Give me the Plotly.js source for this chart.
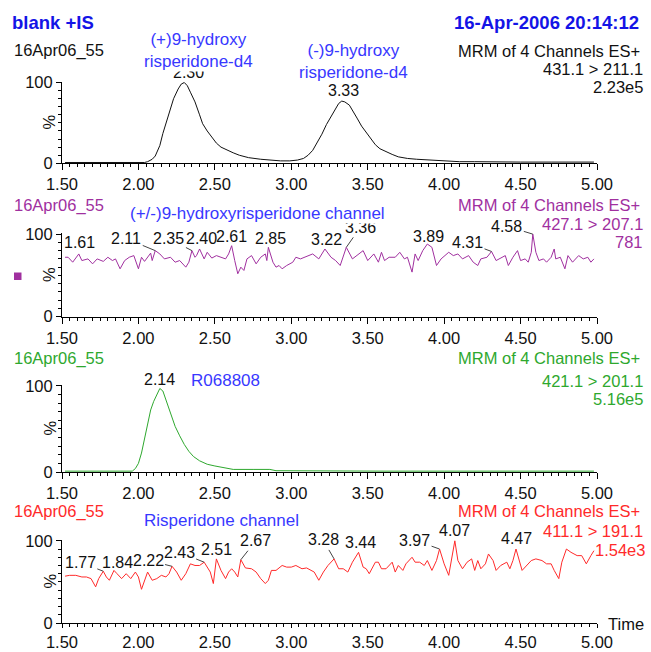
<!DOCTYPE html>
<html><head><meta charset="utf-8">
<script src="https://cdn.plot.ly/plotly-3.0.1.min.js"></script>
<style>body{margin:0;background:#fff}#c{width:651px;height:652px}</style>
</head><body><div id="c"></div>
<script>
// ---------- DATA ----------
const t1 = [1.52,1.60,1.70,1.80,1.90,2.00,2.04,2.06,2.09,2.11,2.14,2.16,2.19,2.21,2.23,2.26,2.28,2.30,2.32,2.34,2.37,2.40,2.42,2.45,2.48,2.51,2.54,2.58,2.62,2.66,2.72,2.80,2.86,2.93,2.99,3.04,3.08,3.11,3.14,3.17,3.20,3.23,3.26,3.29,3.31,3.33,3.35,3.38,3.40,3.43,3.46,3.49,3.52,3.55,3.58,3.62,3.66,3.70,3.76,3.82,3.90,3.96,4.02,4.10,4.20,4.35,4.50,4.70,4.90,4.98];
const v1 = [1,1,1,1,1,1,1,2,5,9,22,37,56,70,80,92,98,100,96,88,76,60,49,40,32,25,20,16,13,10,7,5,4,3,3,4,6,10,16,26,36,48,58,68,74,77,76,72,66,56,46,38,31,23,18,14,11,8,6,5,4,3,3,2,2,1.5,1.5,1.5,1.5,1.5];
const peaks1 = [2.30, 3.33];

const t2 = [1.52,1.54,1.57,1.61,1.63,1.67,1.70,1.73,1.77,1.80,1.83,1.85,1.88,1.91,1.94,1.97,2.00,2.02,2.04,2.08,2.09,2.11,2.14,2.17,2.21,2.24,2.27,2.31,2.33,2.35,2.37,2.38,2.40,2.43,2.45,2.48,2.51,2.54,2.57,2.59,2.61,2.63,2.65,2.67,2.69,2.71,2.74,2.77,2.80,2.83,2.84,2.85,2.88,2.90,2.92,2.94,2.97,3.01,3.03,3.06,3.09,3.14,3.18,3.22,3.26,3.29,3.32,3.34,3.36,3.40,3.44,3.47,3.50,3.54,3.57,3.59,3.61,3.64,3.68,3.71,3.74,3.76,3.79,3.81,3.83,3.86,3.89,3.92,3.95,3.98,4.03,4.06,4.09,4.12,4.16,4.19,4.22,4.24,4.28,4.31,4.34,4.36,4.40,4.42,4.45,4.48,4.50,4.53,4.55,4.57,4.58,4.60,4.62,4.65,4.67,4.70,4.72,4.73,4.76,4.79,4.81,4.84,4.88,4.91,4.94,4.96,4.98];
const v2 = [72,72,66,76,68,70,64,70,67,72,68,70,58,68,72,74,58,72,67,77,68,80,76,70,72,66,68,60,66,80,72,74,82,70,78,71,74,72,70,76,86,68,52,60,56,70,74,64,72,76,68,84,66,60,62,58,62,66,72,70,72,76,70,82,72,68,62,74,84,70,76,80,68,76,66,78,68,72,72,78,70,72,54,76,68,80,88,84,62,70,78,74,76,70,74,66,62,70,72,79,68,70,74,62,72,80,68,70,66,78,100,78,68,70,66,72,82,70,72,58,74,66,74,70,72,66,70];
const peaks2 = [1.61,2.11,2.35,2.40,2.61,2.85,3.22,3.36,3.89,4.31,4.58];

const t3 = [1.52,1.70,1.90,1.96,1.98,2.00,2.02,2.04,2.06,2.08,2.10,2.12,2.14,2.16,2.18,2.20,2.22,2.24,2.27,2.30,2.33,2.36,2.40,2.45,2.50,2.55,2.62,2.75,2.86,2.90,3.20,3.60,4.00,4.50,4.98];
const v3 = [1,1,1,1,4,10,22,40,58,72,82,90,97,94,84,72,62,53,42,32,24,18,13,9,7,5,3,3,3,1.5,1,1,1,1,1];
const peaks3 = [2.14];

const t4 = [1.52,1.55,1.59,1.63,1.66,1.69,1.72,1.74,1.77,1.79,1.81,1.84,1.86,1.89,1.92,1.95,1.98,2.00,2.02,2.04,2.06,2.09,2.12,2.15,2.18,2.20,2.22,2.25,2.28,2.31,2.34,2.37,2.40,2.43,2.45,2.47,2.49,2.51,2.54,2.57,2.59,2.61,2.63,2.65,2.67,2.70,2.74,2.77,2.80,2.83,2.85,2.87,2.90,2.94,2.97,3.00,3.03,3.07,3.10,3.13,3.15,3.18,3.21,3.24,3.26,3.28,3.31,3.34,3.37,3.40,3.44,3.47,3.49,3.51,3.55,3.57,3.59,3.62,3.66,3.68,3.70,3.73,3.75,3.79,3.81,3.84,3.87,3.89,3.92,3.95,3.97,4.00,4.03,4.07,4.09,4.12,4.15,4.18,4.20,4.22,4.24,4.27,4.29,4.32,4.34,4.37,4.41,4.43,4.45,4.47,4.51,4.54,4.57,4.60,4.64,4.67,4.70,4.72,4.75,4.77,4.80,4.83,4.87,4.90,4.93,4.96,4.98];
const v4 = [57,58,58,56,56,54,44,54,63,56,52,64,60,54,60,54,62,56,41,52,62,52,54,58,56,60,69,62,52,60,72,70,70,74,68,62,48,78,64,54,62,66,62,56,77,67,66,62,54,48,52,64,64,70,68,68,70,66,67,64,62,52,62,70,74,78,66,66,62,74,86,68,66,60,74,74,66,66,74,62,70,64,72,80,74,74,70,76,64,76,90,72,58,100,76,66,74,78,64,76,66,72,84,76,64,70,74,66,76,90,64,70,76,78,76,72,72,64,54,74,90,86,82,82,72,82,88];
const peaks4 = [1.77,1.84,2.22,2.43,2.51,2.67,3.28,3.44,3.97,4.07,4.47];

const xTickFormat = '.2f';

// ---------- STYLE / LAYOUT ----------
const FONT = 'Arial, "Liberation Sans", sans-serif';
const W = 651, H = 652, ML = 62, MR = 54;
const PW = W - ML - MR;
const px = x => (x - ML) / PW;
const py = y => 1 - y / H;
const FS = 16.5, FP = 16, FB = 17, FT = 18.5;

const colors = ['#111111', '#a0309f', '#2ea82e', '#ff2a2a'];
const BLUE = '#3838ff';
const domains = [[163.3, 81.7], [316.7, 233.3], [472, 385], [623, 540]];

const series = [[t1, v1], [t2, v2], [t3, v3], [t4, v4]];
const traces = series.map((s, i) => ({
  x: s[0], y: s[1], type: 'scatter', mode: 'lines',
  line: {color: colors[i], width: 1},
  xaxis: 'x' + (i ? i + 1 : ''), yaxis: 'y' + (i ? i + 1 : ''),
  hoverinfo: 'skip'
}));

const layout = {
  width: W, height: H, showlegend: false,
  margin: {l: ML, r: MR, t: 0, b: 0},
  paper_bgcolor: '#fff', plot_bgcolor: '#fff',
  font: {family: FONT, size: FS, color: '#111'},
  annotations: [], shapes: []
};
domains.forEach((d, i) => {
  const k = i ? i + 1 : '';
  layout['xaxis' + k] = {
    anchor: 'y' + k, range: [1.5, 5.0], tick0: 1.5, dtick: 0.5, tickformat: xTickFormat,
    showline: true, linecolor: '#000', linewidth: 1, showgrid: false, zeroline: false,
    ticks: 'outside', ticklen: i === 3 ? 4 : 6, tickcolor: '#000', tickfont: {size: FS, color: '#111'},
    minor: {dtick: 0.05, tick0: 1.5, ticks: 'outside', ticklen: 3, tickcolor: '#000', showgrid: false},
    fixedrange: true
  };
  layout['yaxis' + k] = {
    anchor: 'x' + k, domain: [py(d[0]), py(d[1])], range: [0, 101],
    tick0: 0, dtick: 100, showline: true, linecolor: '#000', linewidth: 1,
    showgrid: false, zeroline: false, ticks: 'outside', ticklen: 5, tickcolor: '#000',
    tickfont: {size: FS, color: '#111'},
    minor: {dtick: 10, tick0: 0, ticks: 'outside', ticklen: 3, tickcolor: '#000', showgrid: false},
    fixedrange: true
  };
  layout.annotations.push({xref: 'paper', yref: 'paper', x: px(49), y: py((d[0] + d[1]) / 2),
    text: '%', textangle: -90, showarrow: false, font: {size: FS, color: '#111'}, xanchor: 'center', yanchor: 'middle'});
});

function txt(x, y, text, opt) {
  layout.annotations.push(Object.assign({xref: 'paper', yref: 'paper', x: px(x), y: py(y), text,
    showarrow: false, yanchor: 'middle', xanchor: 'left', font: {size: FS, color: '#111'}}, opt || {}));
}
function peakLabel(i, t, off) {
  const s = series[i];
  const idx = s[0].indexOf(t);
  const k = i ? i + 1 : '';
  const a = {xref: 'x' + k, yref: 'y' + k, x: t, y: s[1][idx], text: t.toFixed(2),
    font: {size: FP, color: '#111'}, xanchor: 'center', yanchor: 'middle'};
  if (off.arrow) Object.assign(a, {showarrow: true, ax: off.ax, ay: off.ay, arrowhead: 0,
    arrowwidth: 1, arrowcolor: '#444', standoff: 0});
  else Object.assign(a, {showarrow: false, xshift: off.dx, yshift: off.dy});
  layout.annotations.push(a);
}
const blue = {size: FB, color: BLUE};

// Panel 1
txt(10, 22, '<b>blank +IS</b>', {font: {size: FT, color: '#1414e6'}});
txt(641, 22, '<b>16-Apr-2006 20:14:12</b>', {xanchor: 'right', font: {size: FT, color: '#1414e6'}});
txt(12, 50, '16Apr06_55');
txt(642, 51, 'MRM of 4 Channels ES+', {xanchor: 'right'});
txt(645, 69, '431.1 &gt; 211.1', {xanchor: 'right'});
txt(645, 87, '2.23e5', {xanchor: 'right'});
peakLabel(0, 2.30, {dx: 4, dy: 10});
peakLabel(0, 3.33, {dx: 2, dy: 11});
txt(198, 51, '(+)9-hydroxy<br>risperidone-d4', {xanchor: 'center', font: blue, bgcolor: '#fff', borderpad: 0});
txt(353, 61, '(-)9-hydroxy<br>risperidone-d4', {xanchor: 'center', font: blue});

// Panel 2
const P = colors[1];
txt(12, 205, '16Apr06_55', {font: {size: FS, color: P}});
txt(642, 205, 'MRM of 4 Channels ES+', {xanchor: 'right', font: {size: FS, color: P}});
txt(645, 224, '427.1 &gt; 207.1', {xanchor: 'right', font: {size: FS, color: P}});
txt(645, 242, '781', {xanchor: 'right', font: {size: FS, color: P}});
layout.shapes.push({type: 'rect', xref: 'paper', yref: 'paper', x0: px(14), x1: px(21.5), y0: py(280), y1: py(272.5),
  fillcolor: P, line: {width: 0}});
const off2 = [{dx: 1, dy: 11}, {arrow: 1, ax: -29, ay: -12}, {arrow: 1, ax: -23, ay: -12}, {dx: 2, dy: 10},
  {dx: 0, dy: 9}, {dx: 2, dy: 9}, {dx: 2, dy: 9}, {arrow: 1, ax: 14, ay: -20}, {dx: 1, dy: 8},
  {arrow: 1, ax: -24, ay: -9}, {arrow: 1, ax: -26, ay: -8}];
peaks2.forEach((t, j) => peakLabel(1, t, off2[j]));
txt(257, 213, '(+/-)9-hydroxyrisperidone channel', {xanchor: 'center', font: blue, bgcolor: '#fff', borderpad: 0});

// Panel 3
const G = colors[2];
txt(12, 358, '16Apr06_55', {font: {size: FS, color: G}});
txt(642, 358, 'MRM of 4 Channels ES+', {xanchor: 'right', font: {size: FS, color: G}});
txt(645, 381, '421.1 &gt; 201.1', {xanchor: 'right', font: {size: FS, color: G}});
txt(645, 399, '5.16e5', {xanchor: 'right', font: {size: FS, color: G}});
peakLabel(2, 2.14, {dx: 0, dy: 9});
txt(189, 380, 'R068808', {font: blue});

// Panel 4
const R = colors[3];
txt(12, 511, '16Apr06_55', {font: {size: FS, color: R}});
txt(221, 520, 'Risperidone channel', {xanchor: 'center', font: blue});
txt(642, 511, 'MRM of 4 Channels ES+', {xanchor: 'right', font: {size: FS, color: R}});
txt(645, 531, '411.1 &gt; 191.1', {xanchor: 'right', font: {size: FS, color: R}});
txt(647, 550, '1.54e3', {xanchor: 'right', font: {size: FS, color: R}});
txt(606, 624, 'Time');
const off4 = [{arrow: 1, ax: -23, ay: -9}, {dx: 4, dy: 8}, {arrow: 1, ax: -24, ay: -6}, {arrow: 1, ax: -25, ay: -10},
  {dx: 0, dy: 9}, {arrow: 1, ax: 15, ay: -19}, {arrow: 1, ax: -11, ay: -19}, {dx: 2, dy: 10},
  {arrow: 1, ax: -25, ay: -9}, {dx: 0, dy: 10}, {dx: 1, dy: 11}];
peaks4.forEach((t, j) => peakLabel(3, t, off4[j]));

Plotly.newPlot('c', traces, layout, {staticPlot: true});
</script></body></html>
